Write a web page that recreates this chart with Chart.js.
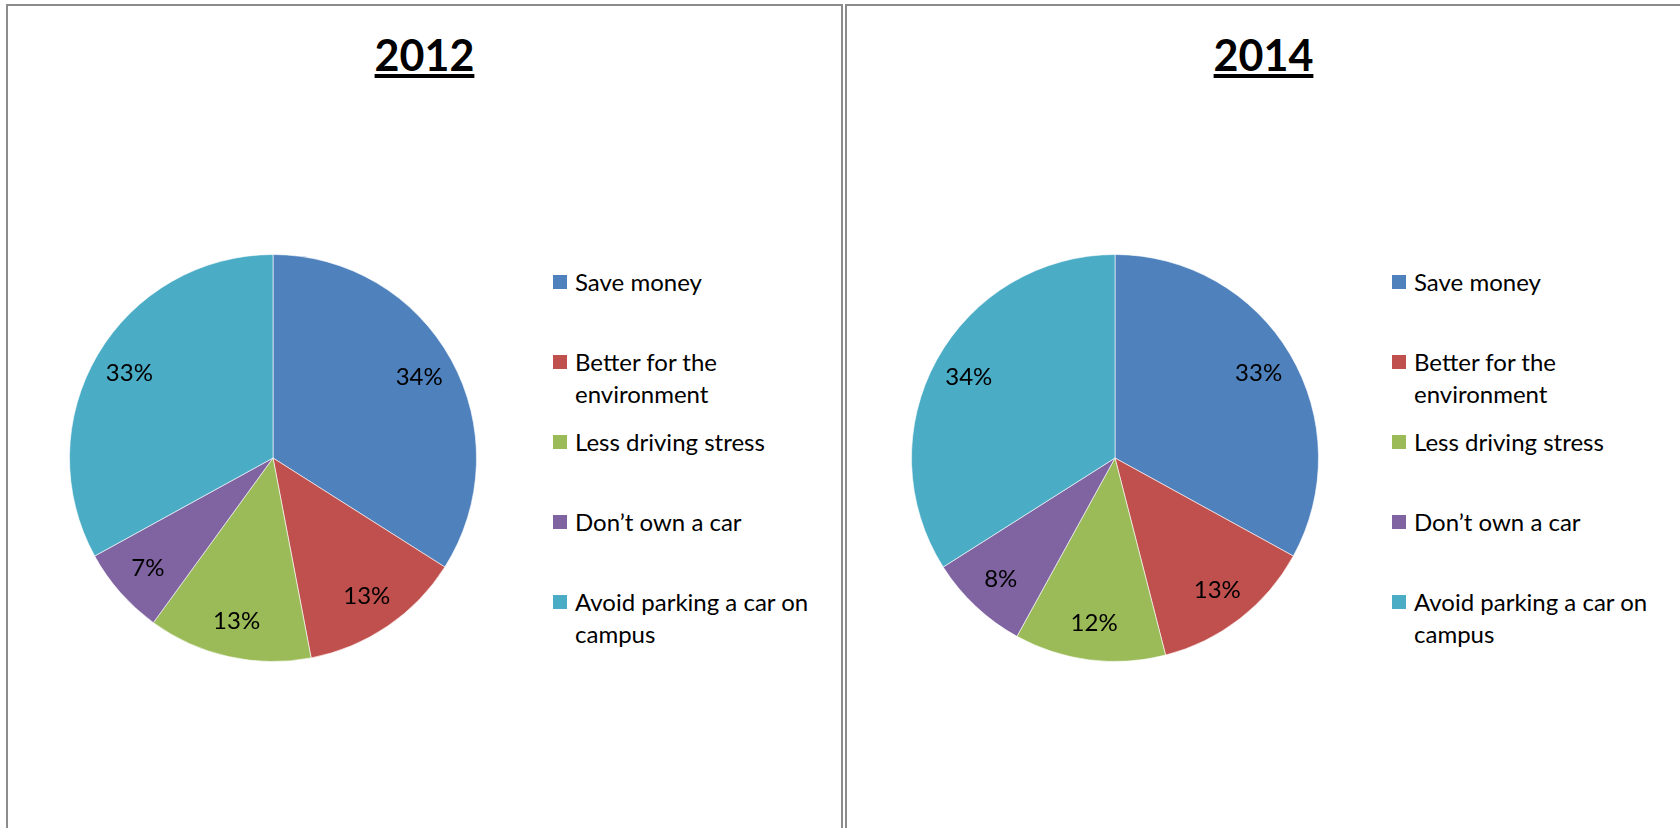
<!DOCTYPE html>
<html lang="en">
<head>
<meta charset="UTF-8">
<title>Reasons for choosing transit - 2012 vs 2014</title>
<script src="https://cdn.jsdelivr.net/npm/chart.js"></script>
<style>
    html, body { margin: 0; padding: 0; background: #fff; }
    body { position: relative; width: 1680px; height: 828px; overflow: hidden;
           font-family: Lato, "Noto Sans", sans-serif; color: #000; }
    .panel { position: absolute; top: 4px; width: 837px; height: 900px;
             border: 2px solid #8c8c8c; box-sizing: border-box; }
    .title { position: absolute; left: 0; right: 0; top: 23px; text-align: center;
             font-weight: bold; font-size: 43px; line-height: 52px;
             text-decoration: underline; text-decoration-thickness: 4px;
             text-underline-offset: 3px; }
    .pie { position: absolute; }
    .legend { position: absolute; width: 290px; }
    .item { position: absolute; left: 0; font-size: 24px; line-height: 32px; }
    .swatch { position: absolute; left: 0; top: 9px; width: 14px; height: 14px; }
    .text { position: absolute; left: 22px; top: 0; width: 262px; }
</style>
</head>
<body>
<script>
    // categories and values (percent)
    const categories = ['Save money', 'Better for the environment', 'Less driving stress',
                        'Don\u2019t own a car', 'Avoid parking a car on campus'];
    const years = ['2012', '2014'];
    const values2012 = [34, 13, 13, 7, 33];
    const values2014 = [33, 13, 12, 8, 34];
    const colors = ['#4F81BD', '#C0504D', '#9BBB59', '#8064A2', '#4BACC6'];

    // percent labels drawn inside each slice
    const sliceLabels = {
        id: 'sliceLabels',
        afterDatasetsDraw(chart) {
            const ctx = chart.ctx;
            const meta = chart.getDatasetMeta(0);
            const data = chart.data.datasets[0].data;
            ctx.save();
            ctx.font = '24px Lato, "Noto Sans", sans-serif';
            ctx.fillStyle = '#000';
            ctx.textAlign = 'center';
            ctx.textBaseline = 'middle';
            meta.data.forEach((arc, i) => {
                const p = arc.getProps(['x', 'y', 'startAngle', 'endAngle', 'outerRadius'], true);
                const mid = (p.startAngle + p.endAngle) / 2;
                const r = p.outerRadius * 0.82;
                ctx.fillText(data[i] + '%', p.x + Math.cos(mid) * r, p.y + Math.sin(mid) * r);
            });
            ctx.restore();
        }
    };

    function makePanel(year, values, left, pieLeft) {
        const panel = document.createElement('div');
        panel.className = 'panel';
        panel.style.left = left + 'px';
        document.body.appendChild(panel);

        const title = document.createElement('div');
        title.className = 'title';
        title.textContent = year;
        panel.appendChild(title);

        const canvas = document.createElement('canvas');
        canvas.className = 'pie';
        canvas.width = 408;
        canvas.height = 408;
        canvas.style.left = pieLeft + 'px';
        canvas.style.top = '248px';
        panel.appendChild(canvas);

        // legend, one entry every 80px like the original
        const legend = document.createElement('div');
        legend.className = 'legend';
        legend.style.left = '545px';
        legend.style.top = '260px';
        categories.forEach((c, i) => {
            const item = document.createElement('div');
            item.className = 'item';
            item.style.top = (i * 80) + 'px';
            const sw = document.createElement('span');
            sw.className = 'swatch';
            sw.style.background = colors[i];
            const tx = document.createElement('span');
            tx.className = 'text';
            tx.textContent = c;
            item.appendChild(sw);
            item.appendChild(tx);
            legend.appendChild(item);
        });
        panel.appendChild(legend);

        new Chart(canvas.getContext('2d'), {
            type: 'pie',
            data: {
                labels: categories,
                datasets: [{
                    data: values,
                    backgroundColor: colors,
                    borderColor: 'rgba(255,255,255,0.6)',
                    borderWidth: 1
                }]
            },
            options: {
                responsive: false,
                animation: false,
                layout: { padding: 0 },
                plugins: {
                    legend: { display: false },
                    tooltip: { enabled: false }
                }
            },
            plugins: [sliceLabels]
        });
    }

    makePanel(years[0], values2012, 6, 61);
    makePanel(years[1], values2014, 845, 64);
</script>
</body>
</html>
